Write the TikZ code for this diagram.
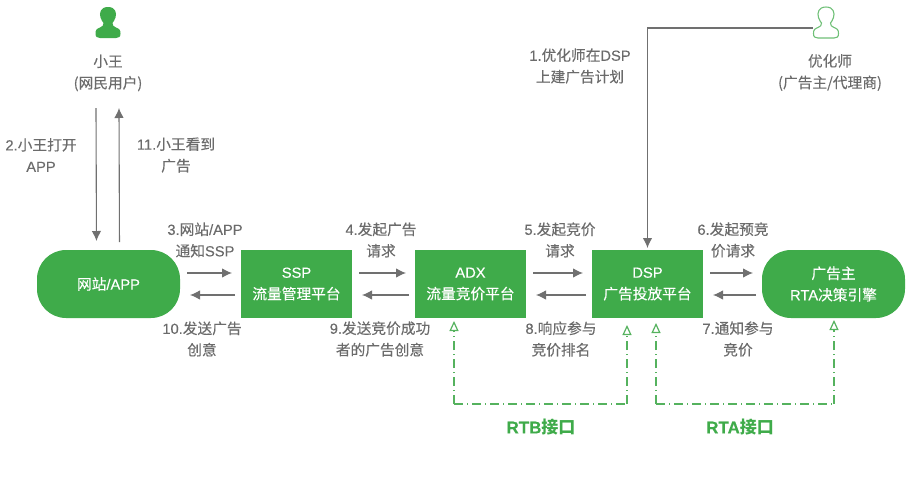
\documentclass[tikz,border=0pt]{standalone}
\usepackage{fontspec}
\setmainfont{Liberation Sans}[FakeBold=0.15]
\newfontfamily\cjk{Noto Sans CJK SC}[FakeBold=0.2]
\newfontfamily\cjkb{Noto Sans CJK SC Bold}
\newcommand{\zh}[1]{{\cjk #1}}
\usetikzlibrary{arrows.meta}
\definecolor{brand}{HTML}{3FAB4A}
\definecolor{txt}{HTML}{6B6B6B}
\definecolor{ink}{HTML}{707070}
\definecolor{dash}{HTML}{55B25E}
\tikzset{
  x=1pt,y=-1pt,
  every node/.style={font=\fontsize{14.7}{21.5}\selectfont,inner sep=0pt,outer sep=0pt,align=center},
  lbl/.style={text=txt},
  plat/.style={fill=brand,text=white,minimum width=111pt,minimum height=68pt},
  pill/.style={fill=brand,text=white,minimum width=143pt,minimum height=68pt,rounded corners=29pt},
  flow/.style={draw=ink,line width=1.1pt,-{Latex[length=10pt,width=9.5pt]}},
  iface/.style={draw=dash,line width=1.2pt,dash pattern=on 9pt off 4pt on 1pt off 4pt,-{Triangle[open,length=10pt,width=9pt,line width=1.2pt,fill=white]}},
  ifrun/.style={draw=dash,line width=1.2pt,dash pattern=on 9pt off 4pt on 1pt off 4pt},
  iflabel/.style={text=brand,font=\fontsize{17}{20}\selectfont\bfseries},
}
\newcommand{\persona}[1]{%
  \path[#1] (0,-15) .. controls (-7.5,-15) and (-9,-9) .. (-7.5,-4.5)
    .. controls (-7,-2) and (-5,0) .. (-4.5,1) .. controls (-4.5,3.5) and (-5.5,4.5) .. (-8,5.5)
    .. controls (-11.5,6.8) and (-12.5,8) .. (-12.5,11.5) .. controls (-12.5,15) and (-11,16) .. (-8,16)
    -- (8,16) .. controls (11,16) and (12.5,15) .. (12.5,11.5)
    .. controls (12.5,8) and (11.5,6.8) .. (8,5.5) .. controls (5.5,4.5) and (4.5,3.5) .. (4.5,1)
    .. controls (5,0) and (7,-2) .. (7.5,-4.5) .. controls (9,-9) and (7.5,-15) .. (0,-15) -- cycle;}
\begin{document}
\begin{tikzpicture}
\useasboundingbox (0,0) rectangle (911,485);
% platforms
\node[pill] (web) at (108.5,284) {\zh{网站}/APP};
\node[plat] (ssp) at (296.5,284) {SSP\\\zh{流量管理平台}};
\node[plat] (adx) at (470.5,284) {ADX\\\zh{流量竞价平台}};
\node[plat] (dsp) at (647.5,284) {DSP\\\zh{广告投放平台}};
\node[pill] (adv) at (833.5,284) {\zh{广告主}\\RTA\zh{决策引擎}};
% people
\begin{scope}[shift={(108,22)}]\persona{fill=brand}\end{scope}
\begin{scope}[shift={(826,22)}]\persona{draw=brand!75!white,line width=1.1pt,fill=white}\end{scope}
\node[lbl] (user) at (108,73) {\zh{小王}\\\zh{(网民用户)}};
\node[lbl] (opt) at (830,72.5) {\zh{优化师}\\\zh{(广告主/代理商)}};
\coordinate (userbot) at (108,108);
\coordinate (opticon) at (813,28);
% vertical flows
\draw[flow,shorten >=9pt] ([xshift=-12pt]userbot) -- ([xshift=-12pt]web.north);
\draw[flow,shorten <=8pt] ([xshift=11pt]web.north) -- ([xshift=11pt]userbot);
\draw[flow,shorten >=2pt] (opticon) -| (dsp.north);
% horizontal flows
\foreach \a/\b in {web/ssp,ssp/adx,adx/dsp,dsp/adv}{
  \draw[flow,shorten <=7pt,shorten >=9pt] ([yshift=11pt]\a.east) -- ([yshift=11pt]\b.west);
  \draw[flow,shorten <=6pt,shorten >=10pt] ([yshift=-11pt]\b.west) -- ([yshift=-11pt]\a.east);
}
% interface loops
\coordinate (rtbl) at (454,404);
\coordinate (rtbr) at (627,404);
\coordinate (rtal) at (656,404);
\coordinate (rtar) at (834,404);
\draw[iface,shorten >=3pt] (rtbl) -- (rtbl |- adx.south);
\draw[iface,shorten >=7pt] (rtbr) -- (rtbr |- dsp.south);
\draw[iface,shorten >=5pt] (rtal) -- (rtal |- dsp.south);
\draw[iface,shorten >=2pt] (rtar) -- (rtar |- adv.south);
\draw[ifrun] (rtbl) -- (rtbr);
\draw[ifrun] (rtal) -- (rtar);
\node[iflabel] (rtb) at (541,427) {RTB{\cjkb 接口}};
\node[iflabel] (rta) at (740,427) {RTA{\cjkb 接口}};
% labels
\node[lbl] (l1) at (580,66) {1.\zh{优化师在}DSP\\\zh{上建广告计划}};
\node[lbl] (l2) at (41,155) {2.\zh{小王打开}\\APP};
\node[lbl] (l11) at (176,155) {11.\zh{小王看到}\\\zh{广告}};
\node[lbl] (l3) at (205,240) {3.\zh{网站}/APP\\\zh{通知}SSP};
\node[lbl] (l4) at (381,240) {4.\zh{发起广告}\\\zh{请求}};
\node[lbl] (l5) at (560,240) {5.\zh{发起竞价}\\\zh{请求}};
\node[lbl] (l6) at (733,240) {6.\zh{发起预竞}\\\zh{价请求}};
\node[lbl] (l10) at (202,339) {10.\zh{发送广告}\\\zh{创意}};
\node[lbl] (l9) at (380,339) {9.\zh{发送竞价成功}\\\zh{者的广告创意}};
\node[lbl] (l8) at (561,339) {8.\zh{响应参与}\\\zh{竞价排名}};
\node[lbl] (l7) at (738,339) {7.\zh{通知参与}\\\zh{竞价}};
\end{tikzpicture}
\end{document}
